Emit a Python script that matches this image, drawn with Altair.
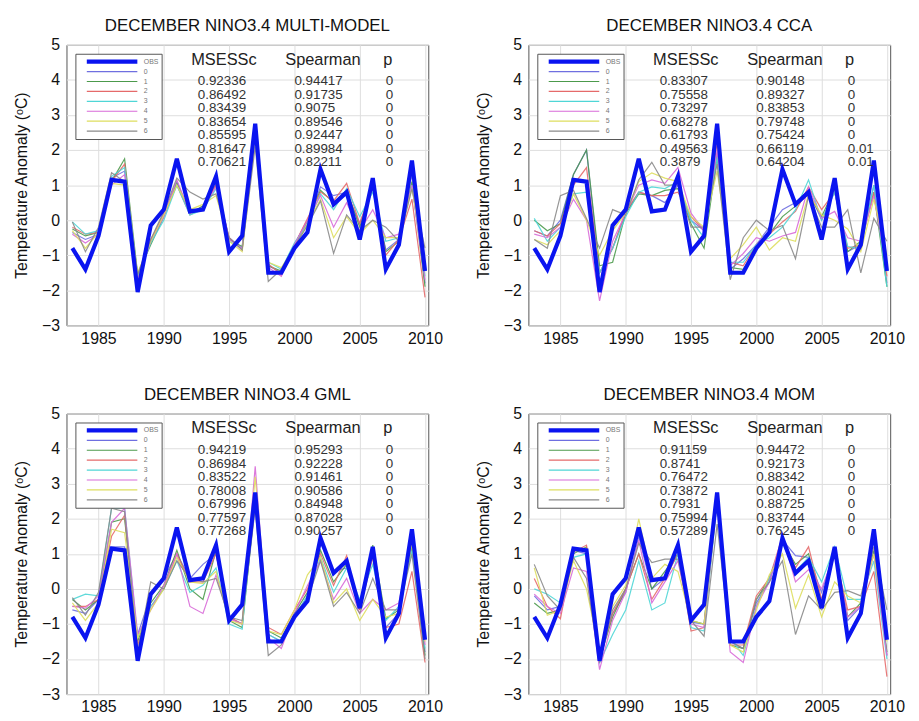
import altair as alt
import pandas as pd

# ---------------- data ----------------
years = list(range(1983, 2011))
series_names = ["OBS", "0", "1", "2", "3", "4", "5", "6"]

obs = [-0.8, -1.4, -0.45, 1.15, 1.1, -2.05, -0.15, 0.3, 1.75, 0.25, 0.3, 1.25, -0.9, -0.45,
       2.75, -1.5, -1.5, -0.8, -0.35, 1.45, 0.45, 0.8, -0.55, 1.2, -1.4, -0.7, 1.7, -1.45]

multi_model = [
    [-0.35, -0.55, -0.4, 1.2, 1.4, -1.6, -0.6, 0.2, 1.1, 0.2, 0.4, 1.05, -0.5, -0.8, 2.6, -1.3, -1.5, -0.75, -0.05, 0.95, 0.7, 0.8, -0.1, 0.9, -0.85, -0.55, 1.3, -1.8],
    [-0.25, -0.45, -0.35, 1.1, 1.75, -1.55, -0.7, 0.1, 1.05, 0.2, 0.4, 1.0, -0.55, -0.75, 2.5, -1.3, -1.45, -0.7, 0.0, 0.85, 0.5, 0.85, -0.2, 0.95, -0.9, -0.6, 1.1, -1.9],
    [-0.2, -0.4, -0.35, 1.1, 1.6, -1.65, -0.55, 0.15, 1.0, 0.15, 0.35, 1.0, -0.5, -0.85, 2.6, -1.25, -1.55, -0.7, 0.05, 0.8, 0.55, 1.05, -0.1, 1.0, -1.0, -0.55, 0.6, -2.2],
    [-0.05, -0.4, -0.3, 1.25, 1.5, -1.6, -0.65, 0.0, 1.0, 0.15, 0.3, 0.9, -0.6, -0.8, 2.4, -1.2, -1.4, -0.65, -0.1, 0.75, 0.3, 0.9, 0.1, 0.8, -0.6, -0.5, 1.0, -1.6],
    [-0.4, -0.65, -0.4, 1.0, 1.3, -1.7, -0.6, 0.1, 1.15, 0.2, 0.35, 0.95, -0.55, -0.8, 2.5, -1.35, -1.6, -0.7, 0.0, 0.7, -0.2, 0.5, -0.3, 0.3, -0.5, -0.4, 1.0, -1.7],
    [-0.3, -0.8, -0.35, 1.05, 1.0, -1.5, -0.6, 0.15, 1.0, 0.3, 0.45, 0.7, -0.6, -0.9, 2.3, -1.2, -1.35, -0.8, -0.1, 0.6, -0.5, 0.1, -0.4, 0.0, -0.5, -0.5, 0.9, -1.2],
    [-0.05, -0.9, -0.2, 1.35, 1.1, -1.55, -0.55, 0.25, 1.2, 0.8, 0.6, 0.75, -0.5, -0.85, 2.1, -1.75, -1.4, -0.75, -0.15, 0.55, -0.95, 0.15, -0.3, 0.0, -0.2, -0.6, 0.9, -0.8],
]

cca = [
    [-0.3, -0.45, 0.0, 1.3, 2.0, -1.5, -0.8, 0.2, 0.8, 0.7, 0.5, 1.0, 0.0, -0.3, 1.9, -1.4, -1.1, -0.7, -0.2, 0.3, 0.5, 0.85, 0.0, 0.8, -0.9, -0.7, 1.0, -1.8],
    [0.0, -0.3, -0.1, 1.3, 2.0, -1.3, -1.2, 0.2, 0.75, 0.7, 0.85, 0.9, -0.1, -0.8, 1.8, -1.35, -1.4, -0.8, -0.4, 0.1, 0.4, 0.75, 0.1, 0.9, -0.9, -0.6, 0.8, -1.9],
    [-0.3, -0.45, -0.1, 1.0, 1.5, -1.5, -0.8, 0.25, 0.8, 0.7, 0.7, 0.8, 0.1, -0.3, 2.2, -1.2, -1.3, -0.7, -0.4, -0.05, 0.25, 0.95, 0.3, 0.8, -0.8, -0.7, 0.8, -1.6],
    [0.05, -0.6, -0.2, 0.75, 0.8, -1.5, -0.8, 0.1, 0.8, 0.95, 0.9, 1.1, 0.0, -0.5, 1.8, -1.2, -1.2, -0.7, -0.5, -0.2, 0.3, 1.15, 0.0, 0.8, -0.75, -0.8, 1.0, -1.9],
    [-0.4, -0.5, -0.2, 0.6, 0.0, -2.3, -0.6, 0.2, 1.0, 1.15, 1.05, 1.5, 0.2, -0.3, 2.0, -1.3, -0.95, -0.5, -0.6, -0.45, -0.35, 0.95, 0.05, 0.25, -0.5, -0.6, 0.7, -1.4],
    [-0.55, -0.7, -0.3, 0.75, 0.0, -1.0, -0.3, 0.2, 1.1, 1.35, 1.2, 1.1, 0.1, -0.2, 1.4, -1.1, -0.7, -0.2, -0.85, -0.5, -0.6, 0.75, 0.15, 0.0, -0.25, -0.9, 0.6, -1.0],
    [-0.55, -0.8, 0.7, 0.85, 0.05, -0.8, 0.3, 0.15, 1.15, 1.65, 1.0, 1.0, -0.2, -0.2, 1.6, -1.7, -0.5, 0.0, -0.3, -0.15, -1.1, 0.7, -0.2, -0.2, 0.3, -1.5, 0.05, -0.6],
]

gml = [
    [-0.6, -0.7, -0.3, 1.2, 1.2, -1.3, -0.2, 0.3, 1.0, 0.3, 0.7, 1.0, -0.8, -1.0, 2.7, -1.3, -1.5, -0.8, -0.2, 1.3, 0.5, 0.6, -0.5, 1.1, -1.1, -0.7, 1.4, -1.8],
    [-0.3, -0.6, -0.3, 1.9, 2.0, -1.5, -0.4, 0.1, 1.1, 0.0, -0.3, 1.1, -0.9, -1.1, 2.5, -1.2, -1.4, -0.7, -0.1, 1.1, 0.2, 0.7, -0.6, 1.25, -0.85, -0.6, 1.2, -1.9],
    [-0.5, -0.5, -0.3, 1.5, 2.1, -1.6, -0.5, 0.0, 1.0, 0.2, 0.2, 1.0, -0.8, -1.0, 2.6, -1.1, -1.3, -0.6, 0.0, 1.0, 0.1, 0.95, -0.6, 0.9, -1.1, -1.0, 0.5, -2.1],
    [-0.3, -0.15, -0.2, 2.3, 2.3, -1.4, -0.5, 0.0, 0.8, -0.1, 0.1, 0.6, -1.0, -1.15, 2.6, -1.3, -1.5, -0.8, -0.2, 0.9, -0.1, 0.6, -0.3, 0.7, -0.9, -0.5, 1.1, -1.7],
    [-0.5, -0.55, -0.2, 1.9, 2.3, -1.3, -0.6, 0.1, 1.0, -0.5, -0.7, 0.4, -0.85, -1.0, 3.5, -1.4, -1.7, -0.7, 0.1, 0.8, -0.3, 0.3, -0.7, -0.3, -0.6, -0.4, 1.5, -1.6],
    [-0.4, -0.9, -0.4, 1.7, 1.6, -1.4, -0.6, 0.0, 0.9, 0.2, 0.15, 0.5, -0.9, -1.0, 3.2, -1.2, -1.3, -0.6, 0.4, 0.9, -0.4, 0.0, -0.9, -0.3, -0.8, -0.7, 1.3, -1.5],
    [-0.25, -0.75, -0.1, 2.3, 2.2, -1.8, 0.2, 0.0, 0.8, 0.3, 0.2, 0.3, -0.8, -0.9, 2.3, -1.9, -1.6, -0.7, -0.3, 0.8, -0.5, -0.1, -0.7, 0.3, -0.6, -0.6, 1.0, -2.0],
]

mom = [
    [-0.2, -0.6, -0.5, 1.1, 1.0, -1.9, -0.7, -0.1, 1.5, 0.0, 0.3, 1.0, -0.95, -1.0, 2.6, -1.5, -1.7, -0.4, 0.2, 1.4, 0.95, 0.9, -0.1, 1.1, -0.9, -0.5, 1.4, -1.9],
    [-0.4, -0.7, -0.6, 1.0, 1.2, -2.0, -0.8, 0.0, 1.0, 0.0, 0.5, 1.0, -0.9, -1.0, 2.6, -1.6, -1.7, -0.3, 0.3, 1.35, 0.7, 1.0, -0.4, 1.1, -0.8, -0.4, 1.1, -1.8],
    [0.3, -0.5, -0.85, 1.05, 1.25, -2.0, -0.7, 0.0, 1.0, -0.3, 0.3, 1.0, -1.2, -1.1, 2.6, -1.6, -1.6, -0.2, 0.3, 1.5, 0.6, 1.2, -0.3, 1.0, -0.6, -0.5, 0.5, -2.5],
    [0.0, -0.15, -0.4, 0.9, 1.0, -2.1, -1.3, -0.6, 0.8, -0.6, -0.4, 1.0, -1.1, -1.2, 2.5, -1.4, -1.9, -0.5, 0.3, 1.3, 0.5, 0.9, 0.2, 1.2, -0.3, -0.3, 0.8, -2.0],
    [-0.15, -0.5, -0.7, 0.6, 0.5, -2.3, -0.9, -0.1, 1.4, -0.4, 0.2, 0.8, -1.0, -1.1, 2.6, -1.8, -2.1, -0.5, 0.2, 1.5, 0.2, 0.55, 0.0, 1.0, -0.8, -0.5, 1.0, -1.9],
    [0.6, -0.75, -0.6, 0.8, 0.0, -1.8, -0.5, 0.1, 2.0, 0.3, 0.7, 0.5, -0.9, -1.0, 2.5, -1.6, -1.8, -0.6, 0.4, 1.0, -0.55, 0.4, -0.8, 0.2, -0.2, -0.4, 1.0, -1.5],
    [0.7, -0.2, -0.6, 0.9, 0.3, -2.1, -0.6, 0.0, 1.3, 0.75, 0.85, 0.85, -0.9, -1.35, 1.85, -1.5, -1.7, -0.3, 0.2, 0.8, -1.3, -0.2, -0.6, -0.1, -0.05, -0.2, 1.2, -0.6],
]

titles = ["DECEMBER NINO3.4 MULTI-MODEL", "DECEMBER NINO3.4 CCA",
          "DECEMBER NINO3.4 GML", "DECEMBER NINO3.4 MOM"]

msessc = [
    ["0.92336", "0.86492", "0.83439", "0.83654", "0.85595", "0.81647", "0.70621"],
    ["0.83307", "0.75558", "0.73297", "0.68278", "0.61793", "0.49563", "0.3879"],
    ["0.94219", "0.86984", "0.83522", "0.78008", "0.67996", "0.77597", "0.77268"],
    ["0.91159", "0.8741", "0.76472", "0.73872", "0.7931", "0.75994", "0.57289"],
]
spearman = [
    ["0.94417", "0.91735", "0.9075", "0.89546", "0.92447", "0.89984", "0.82211"],
    ["0.90148", "0.89327", "0.83853", "0.79748", "0.75424", "0.66119", "0.64204"],
    ["0.95293", "0.92228", "0.91461", "0.90586", "0.84948", "0.87028", "0.90257"],
    ["0.94472", "0.92173", "0.88342", "0.80241", "0.88725", "0.83744", "0.76245"],
]
pvals = [
    ["0", "0", "0", "0", "0", "0", "0"],
    ["0", "0", "0", "0", "0", "0.01", "0.01"],
    ["0", "0", "0", "0", "0", "0", "0"],
    ["0", "0", "0", "0", "0", "0", "0"],
]
headers = ["MSESSc", "Spearman", "p"]

# ---------------- style / layout ----------------
FONT = "Liberation Sans"
colors = ["#0a14f0", "#6f6fe0", "#4c9a4c", "#e56a6a", "#4fd6d6", "#d86ad8", "#dede5e", "#8a8a8a"]
widths = [4.2, 1.2, 1.2, 1.2, 1.2, 1.2, 1.2, 1.2]
X_DOMAIN = [1982.55, 2010.25]
Y_DOMAIN = [-3, 5]
PW, PH = 365, 283
header_x = [1992.1, 1999.3, 2006.8]
col_x = [1992.6, 2000.0, 2007.0]
HEADER_Y = 4.58
ROW0_Y = 3.96
ROW_STEP = 0.385


def panel(i, models):
    recs = []
    for y, v in zip(years, obs):
        recs.append({"year": y, "series": "OBS", "value": v})
    for k, m in enumerate(models):
        for y, v in zip(years, m):
            recs.append({"year": y, "series": str(k), "value": v})
    df = pd.DataFrame(recs)

    x_scale = alt.Scale(domain=X_DOMAIN, nice=False, zero=False)
    y_scale = alt.Scale(domain=Y_DOMAIN, nice=False, zero=False)
    x_axis = alt.Axis(values=[1985, 1990, 1995, 2000, 2005, 2010], format="d", title=None,
                      labelPadding=5)
    y_axis = alt.Axis(values=list(range(-3, 6)), format="d", title="Temperature Anomaly (ᵒC)")
    xs = alt.X("year:Q", scale=x_scale, axis=x_axis)
    ys = alt.Y("value:Q", scale=y_scale, axis=y_axis)
    leg = alt.Legend(orient="top-left", title=None, symbolType="stroke", symbolSize=2600,
                     labelFontSize=7, labelColor="#777", strokeColor="#555", fillColor="white",
                     padding=3, offset=9, clipHeight=10, rowPadding=0, symbolOffset=6,
                     labelOffset=4, symbolOpacity=1)
    col = alt.Color("series:N", scale=alt.Scale(domain=series_names, range=colors), legend=leg)
    sw = alt.StrokeWidth("series:N", scale=alt.Scale(type="ordinal", domain=series_names, range=widths),
                         legend=leg)

    base = alt.Chart(df)
    models_l = base.transform_filter(alt.datum.series != "OBS").mark_line(opacity=0.9).encode(
        x=xs, y=ys, color=col, strokeWidth=sw)
    obs_l = base.transform_filter(alt.datum.series == "OBS").mark_line().encode(
        x=xs, y=ys, color=col, strokeWidth=sw)

    tab = pd.DataFrame({"row": list(range(7)), "m": msessc[i], "s": spearman[i], "p": pvals[i]})
    layers = [models_l, obs_l]
    for cx, fld in zip(col_x, ["m", "s", "p"]):
        layers.append(
            alt.Chart(tab).transform_calculate(ty=f"{ROW0_Y} - {ROW_STEP} * datum.row")
            .mark_text(align="left", baseline="middle", fontSize=13.5, font=FONT, color="#333")
            .encode(x=alt.XDatum(cx, scale=x_scale, axis=x_axis),
                    y=alt.Y("ty:Q", scale=y_scale, axis=y_axis), text=f"{fld}:N")
        )
    hdf = pd.DataFrame({"h": headers})
    for hx, h in zip(header_x, headers):
        layers.append(
            alt.Chart(hdf).transform_filter(alt.datum.h == h)
            .mark_text(align="left", baseline="middle", fontSize=16.5, font=FONT, color="#222")
            .encode(x=alt.XDatum(hx, scale=x_scale, axis=x_axis),
                    y=alt.YDatum(HEADER_Y, scale=y_scale, axis=y_axis), text="h:N")
        )
    return alt.layer(*layers).properties(
        width=PW, height=PH,
        title=alt.TitleParams(titles[i], fontSize=17, fontWeight="normal", font=FONT,
                              color="#111", offset=2),
    )


p1 = panel(0, multi_model)
p2 = panel(1, cca)
p3 = panel(2, gml)
p4 = panel(3, mom)

row1 = alt.hconcat(p1, p2, spacing=31).resolve_scale(color="independent", strokeWidth="independent")
row2 = alt.hconcat(p3, p4, spacing=31).resolve_scale(color="independent", strokeWidth="independent")

chart = alt.vconcat(row1, row2, spacing=38, background="white").resolve_scale(
    color="independent", strokeWidth="independent"
).configure_view(stroke="#555", strokeWidth=1).configure_axis(
    labelFontSize=16, labelFont=FONT, labelColor="#111", titleFont=FONT, titleFontSize=16,
    titleFontWeight="normal", titleColor="#111", grid=True, gridColor="#dedede",
    domain=False, ticks=False, labelPadding=7, titlePadding=12, labelOverlap=False
)

chart.save("out.html", embed_options={"renderer": "svg", "actions": False})
